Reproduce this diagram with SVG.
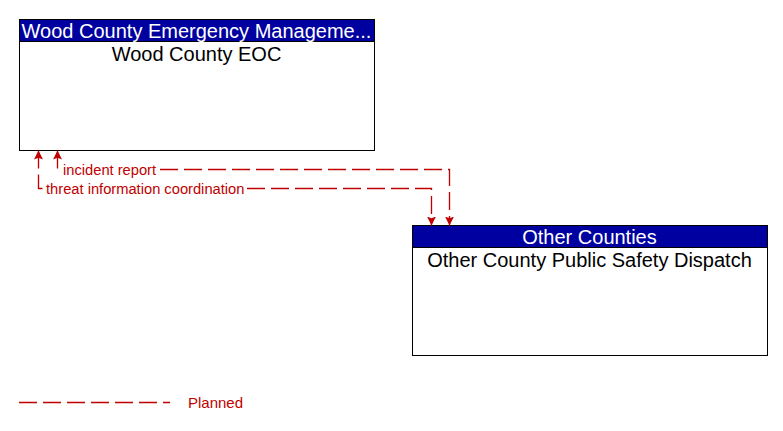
<svg xmlns="http://www.w3.org/2000/svg" width="783" height="431" viewBox="0 0 783 431">
<style>
.box{fill:#fff;stroke:#000;stroke-width:1}
.hdr{fill:#0000A0;stroke:#000;stroke-width:1}
.ht{font-family:"Liberation Sans",Arial,sans-serif;font-size:20px;fill:#fff;text-anchor:middle}
.bt{font-family:"Liberation Sans",Arial,sans-serif;font-size:20px;fill:#000;text-anchor:middle}
.flow{fill:none;stroke:#C00000;stroke-width:1.33;stroke-dasharray:18 6;marker-start:url(#arr);marker-end:url(#arr)}
.lbl{font-family:"Liberation Sans",Arial,sans-serif;font-size:14.7px;fill:#C00000}
.legline{fill:none;stroke:#C00000;stroke-width:1.33;stroke-dasharray:18 6}
.leg{font-family:"Liberation Sans",Arial,sans-serif;font-size:15px;fill:#C00000}
</style>
<defs>
<marker id="arr" viewBox="0 0 10 10" refX="10" refY="5" markerWidth="9" markerHeight="9" markerUnits="userSpaceOnUse" orient="auto-start-reverse">
<path d="M0,0 L10,5 L0,10 L2,5 Z" fill="#C00000"/>
</marker>
</defs>
<g id="wood-county-eoc">
<rect class="box" x="19.5" y="19.5" width="355" height="131"/>
<rect class="hdr" x="19.5" y="19.5" width="355" height="22"/>
<text class="ht" x="196.5" y="37.5">Wood County Emergency Manageme...</text>
<text class="bt" x="196.5" y="61">Wood County EOC</text>
</g>
<g id="other-county-dispatch">
<rect class="box" x="412.5" y="225.5" width="355" height="130"/>
<rect class="hdr" x="412.5" y="225.5" width="355" height="22"/>
<text class="ht" x="589.5" y="243.5">Other Counties</text>
<text class="bt" x="589.5" y="267">Other County Public Safety Dispatch</text>
</g>
<g id="connectors">
<path class="flow" d="M57.5,150.5 L57.5,169.5 L62,169.5 M160,169.5 L449.5,169.5 L449.5,225.5"/>
<text class="lbl" x="63" y="174.5">incident report</text>
<path class="flow" d="M38.5,150.5 L38.5,188.5 L44,188.5 M247,188.5 L431.5,188.5 L431.5,225.5"/>
<text class="lbl" x="46" y="193.5">threat information coordination</text>
</g>
<g id="legend">
<line class="legline" x1="19" y1="402.5" x2="170" y2="402.5"/>
<text class="leg" x="188" y="407.5">Planned</text>
</g>
</svg>
